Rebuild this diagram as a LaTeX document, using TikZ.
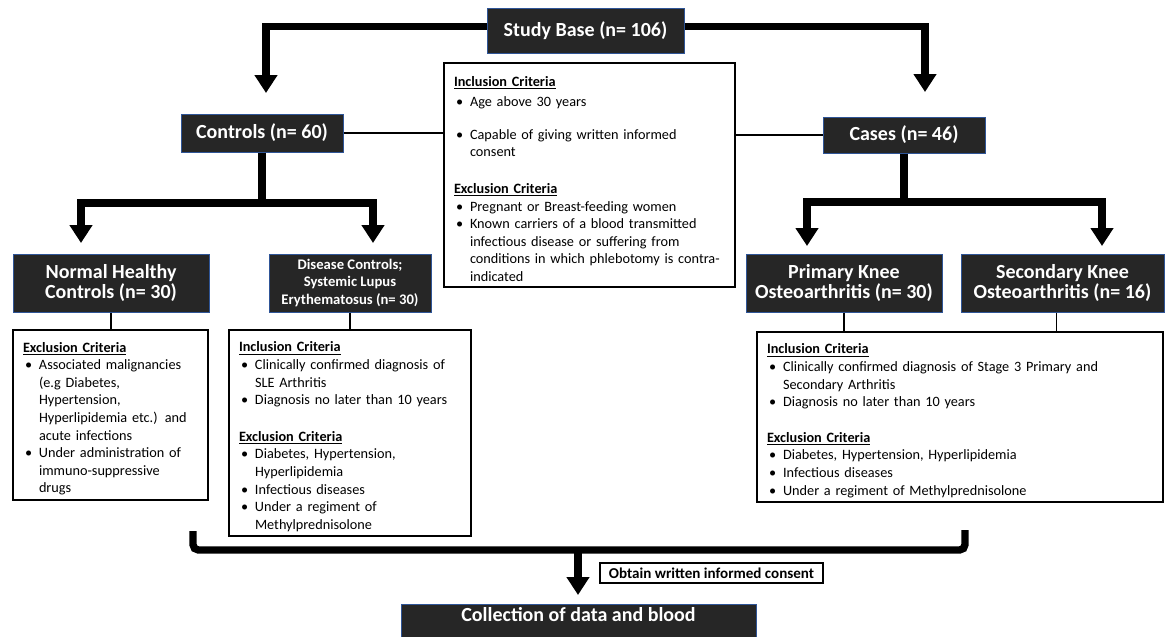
\documentclass[tikz,border=0pt]{standalone}
\usepackage{fontspec}
\setmainfont{Carlito}
\usetikzlibrary{arrows.meta}
\newdimen\pxu \pxu=0.75pt
\setlength{\parindent}{0pt}
\definecolor{boxfill}{RGB}{38,38,38}
\definecolor{boxedge}{RGB}{47,85,151}
\newcommand{\crithead}[1]{\par\leftskip=0pt\noindent\textbf{\underline{#1}}\par}
\newcommand{\critem}{\par\leftskip=16\pxu\noindent\hspace*{-16\pxu}\makebox[16\pxu][l]{\hspace{2\pxu}\textbullet}}
\newcommand{\critend}{\par\vspace{6\pxu}}

\begin{document}
\begin{tikzpicture} [x=0.75pt, y=-0.75pt]
    \tikzstyle{every node} = [align=center]
    \tikzstyle{titlebox} = [fill=boxfill, draw=boxedge, line width=0.75pt, text=white, inner sep=0pt, font=\bfseries\fontsize{15}{15.5}\selectfont]
    \tikzstyle{smalltitle} = [titlebox, font=\bfseries\fontsize{11}{13.1}\selectfont]
    \tikzstyle{critbox} = [draw=black, fill=white, line width=0.9pt, align=left, inner xsep=10\pxu, inner ysep=0pt, font=\fontsize{10.7}{13.2}\selectfont]
    \tikzstyle{notebox} = [draw=black, fill=white, line width=0.8pt, inner sep=0pt, font=\bfseries\fontsize{11.3}{13}\selectfont]
    \tikzstyle{fatline} = [line width=5.5pt, line join=miter]
    \tikzstyle{fatarrow} = [fatline, -{Triangle[width=16.5pt, length=13.5pt]}]
    \tikzstyle{link} = [line width=0.8pt]
    \path[fill=white, use as bounding box] (0,0) rectangle (1166,636);

    % top level
    \node[titlebox, minimum width=197\pxu, minimum height=45\pxu] (study) at (585.5,30.5) {Study Base (n= 106)};
    \node[titlebox, minimum width=162\pxu, minimum height=38\pxu] (ctrl) at (262,133) {Controls (n= 60)};
    \node[titlebox, minimum width=162\pxu, minimum height=36\pxu] (cases) at (904,135) {Cases (n= 46)};
    \node[critbox, text width=271\pxu, minimum height=224\pxu] (incl) at (589.5,175) {%
        \crithead{Inclusion Criteria}
        \vspace{3\pxu}
        \critem Age above 30 years
        \par\vspace{15\pxu}
        \critem Capable of giving written informed\\consent
        \par\vspace{19\pxu}
        \crithead{Exclusion Criteria}
        \critem Pregnant or Breast-feeding women
        \critem Known carriers of a blood transmitted\\infectious disease or suffering from\\conditions in which phlebotomy is contra-\\indicated
        \par\vspace{9\pxu}};

    % groups
    \node[titlebox, minimum width=196\pxu, minimum height=58\pxu] (nhc) at (111,283) {Normal Healthy\\Controls (n= 30)};
    \node[smalltitle, minimum width=162\pxu, minimum height=58\pxu] (dc) at (350,283) {Disease Controls;\\Systemic Lupus\\Erythematosus (n= 30)};
    \node[titlebox, minimum width=196\pxu, minimum height=58\pxu] (pko) at (844,283) {Primary Knee\\Osteoarthritis (n= 30)};
    \node[titlebox, minimum width=203\pxu, minimum height=58\pxu] (sko) at (1062.5,283) {Secondary Knee\\Osteoarthritis (n= 16)};

    % criteria of the groups
    \node[critbox, text width=175\pxu, minimum height=170\pxu] (nhccrit) at (110.5,415) {%
        \crithead{Exclusion Criteria}
        \critem Associated malignancies\\(e.g Diabetes,\\Hypertension,\\Hyperlipidemia etc.) and\\acute infections
        \critem Under administration of\\immuno-suppressive\\drugs
        \critend};
    \node[critbox, text width=222\pxu, minimum height=206\pxu] (dccrit) at (350,433) {%
        \crithead{Inclusion Criteria}
        \critem Clinically confirmed diagnosis of\\SLE Arthritis
        \critem Diagnosis no later than 10 years
        \par\vspace{19\pxu}
        \crithead{Exclusion Criteria}
        \critem Diabetes, Hypertension,\\Hyperlipidemia
        \critem Infectious diseases
        \critem Under a regiment of\\Methylprednisolone
        \critend};
    \node[critbox, text width=386\pxu, minimum height=170\pxu] (oacrit) at (960,417) {%
        \crithead{Inclusion Criteria}
        \critem Clinically confirmed diagnosis of Stage 3 Primary and\\Secondary Arthritis
        \critem Diagnosis no later than 10 years
        \par\vspace{18\pxu}
        \crithead{Exclusion Criteria}
        \critem Diabetes, Hypertension, Hyperlipidemia
        \critem Infectious diseases
        \critem Under a regiment of Methylprednisolone
        \critend};

    % bottom
    \node[notebox, minimum width=223\pxu, minimum height=20\pxu] (consent) at (711.5,573) {Obtain written informed consent};
    \node[titlebox, anchor=north, minimum width=355\pxu, text height=17\pxu, text depth=19\pxu] (collect) at (578.5,604) {Collection of data and blood};

    % arrow ends
    \coordinate (ctrlin) at (266,93);
    \coordinate (casesin) at (925,92);
    \coordinate (ctrlsplit) at (262,203);
    \coordinate (nhcin) at (81,243);
    \coordinate (dcin) at (373,243);
    \coordinate (casesplit) at (904,202);
    \coordinate (pkoin) at (807,246);
    \coordinate (skoin) at (1102,246);
    \coordinate (brl) at (193,531);
    \coordinate (brr) at (965,530);
    \coordinate (brmid) at (578,550);
    \coordinate (collectin) at (578,595);

    % connectors
    \draw[fatarrow] ([yshift=3pt]study.west) -| (ctrlin);
    \draw[fatarrow] ([yshift=3pt]study.east) -| (casesin);
    \draw[link] (ctrl.east) -- (ctrl.east -| incl.west);
    \draw[link] (cases.west -| incl.east) -- (cases.west);
    \draw[fatline] (ctrl.south) -- (ctrlsplit);
    \draw[fatarrow] (ctrlsplit) -| (nhcin);
    \draw[fatarrow] (ctrlsplit) -| (dcin);
    \draw[fatline] (cases.south) -- (casesplit);
    \draw[fatarrow] (casesplit) -| (pkoin);
    \draw[fatarrow] (casesplit) -| (skoin);
    \draw[link] (nhc.south) -- (nhc.south |- nhccrit.north);
    \draw[link] (dc.south) -- (dc.south |- dccrit.north);
    \draw[link] (pko.south) -- (pko.south |- oacrit.north);
    \draw[link] ([xshift=-4.5pt]sko.south) -- ([xshift=-4.5pt]sko.south |- oacrit.north);
    \draw[fatline, rounded corners=4pt] (brl) |- (brmid) -| (brr);
    \draw[fatarrow] (brmid) -- (collectin);
\end{tikzpicture}
\end{document}
